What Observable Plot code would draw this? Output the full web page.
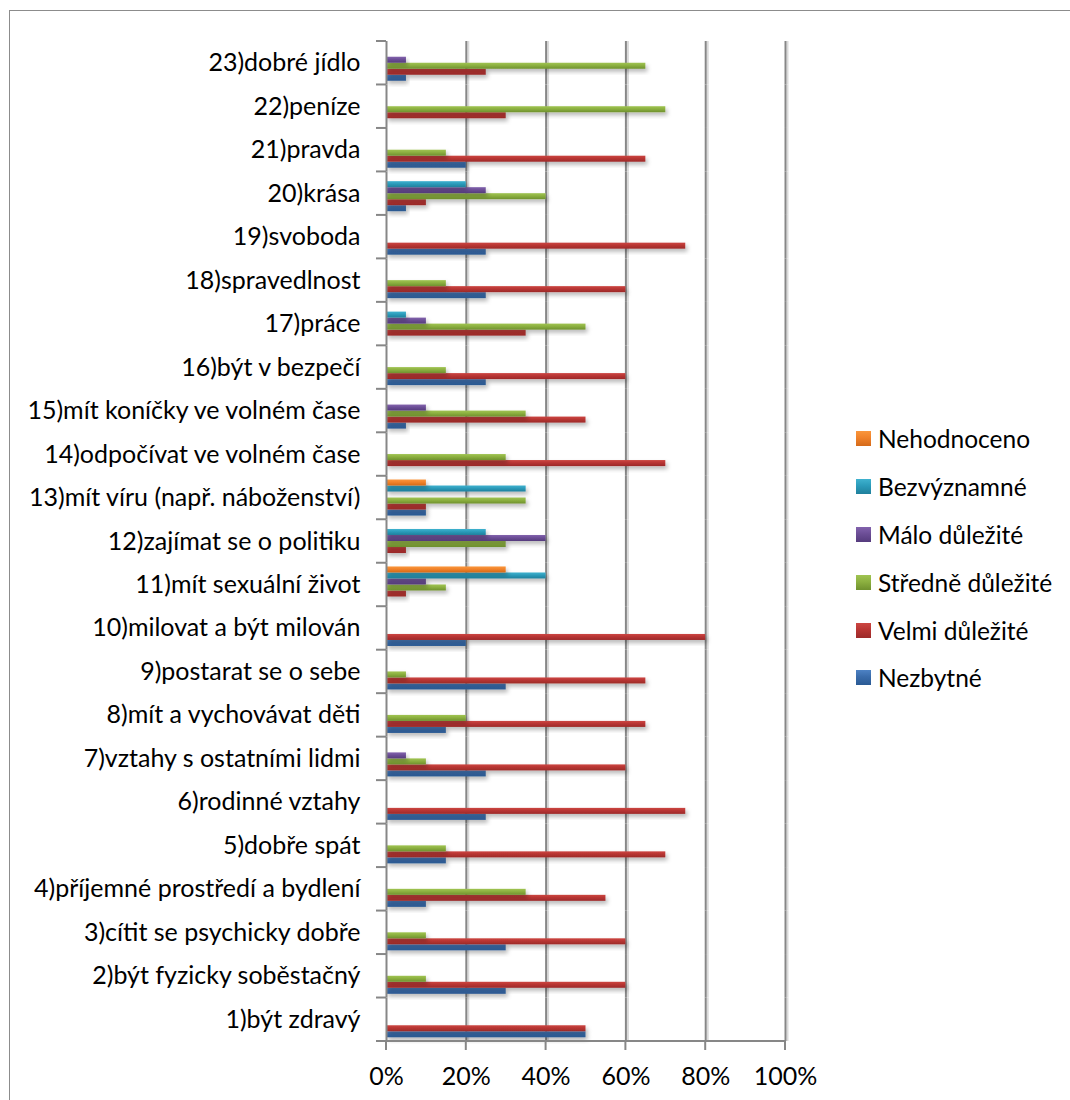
<!DOCTYPE html>
<html>
<head>
<meta charset="utf-8">
<script src="https://cdn.jsdelivr.net/npm/d3@7"></script>
<script src="https://cdn.jsdelivr.net/npm/@observablehq/plot@0.6"></script>
<style>
  body { margin: 0; background: #fff; }
  #chart { position: relative; width: 1070px; height: 1100px; overflow: hidden; font-family: Lato, "Open Sans", sans-serif; }
  #frame { position: absolute; left: 9px; top: 10px; right: -10px; bottom: -10px; border-left: 1.5px solid #8c8c8c; border-top: 1.5px solid #8c8c8c; }
  #plot { position: absolute; left: 0; top: 0; }
  #legend { position: absolute; left: 856px; top: 415px; }
  .item { display: flex; align-items: center; height: 47.8px; font-size: 24.5px; color: #000; white-space: nowrap; }
  .sw { width: 15px; height: 15px; margin-right: 7px; flex: none; }
  svg g[aria-label="bar"] rect { filter: url(#bar-shadow); }
</style>
</head>
<body>
<div id="chart">
  <div id="frame"></div>
  <div id="plot"></div>
  <div id="legend"></div>
</div>
<script>
// Categories, bottom to top
const categories = [
  "1)být zdravý",
  "2)být fyzicky soběstačný",
  "3)cítit se psychicky dobře",
  "4)příjemné prostředí a bydlení",
  "5)dobře spát",
  "6)rodinné vztahy",
  "7)vztahy s ostatními lidmi",
  "8)mít a vychovávat děti",
  "9)postarat se o sebe",
  "10)milovat a být milován",
  "11)mít sexuální život",
  "12)zajímat se o politiku",
  "13)mít víru (např. náboženství)",
  "14)odpočívat ve volném čase",
  "15)mít koníčky ve volném čase",
  "16)být v bezpečí",
  "17)práce",
  "18)spravedlnost",
  "19)svoboda",
  "20)krása",
  "21)pravda",
  "22)peníze",
  "23)dobré jídlo"
];

// Series, in the order they stack from the bottom of each group
const seriesNames = ["Nezbytné", "Velmi důležité", "Středně důležité", "Málo důležité", "Bezvýznamné", "Nehodnoceno"];

// Share of answers in percent, one value per category (1 … 23)
const nezbytne      = [50, 30, 30, 10, 15, 25, 25, 15, 30, 20,  0,  0, 10,  0,  5, 25,  0, 25, 25,  5, 20,  0,  5];
const velmiDulezite = [50, 60, 60, 55, 70, 75, 60, 65, 65, 80,  5,  5, 10, 70, 50, 60, 35, 60, 75, 10, 65, 30, 25];
const stredneDulez  = [ 0, 10, 10, 35, 15,  0, 10, 20,  5,  0, 15, 30, 35, 30, 35, 15, 50, 15,  0, 40, 15, 70, 65];
const maloDulezite  = [ 0,  0,  0,  0,  0,  0,  5,  0,  0,  0, 10, 40,  0,  0, 10,  0, 10,  0,  0, 25,  0,  0,  5];
const bezvyznamne   = [ 0,  0,  0,  0,  0,  0,  0,  0,  0,  0, 40, 25, 35,  0,  0,  0,  5,  0,  0, 20,  0,  0,  0];
const nehodnoceno   = [ 0,  0,  0,  0,  0,  0,  0,  0,  0,  0, 30,  0, 10,  0,  0,  0,  0,  0,  0,  0,  0,  0,  0];

const seriesValues = [nezbytne, velmiDulezite, stredneDulez, maloDulezite, bezvyznamne, nehodnoceno];

// Bar shading: light top, base, dark bottom
const seriesColors = [
  ["#4d82c4", "#3a6cab", "#2a5a94"],
  ["#cc4642", "#b83533", "#9c2a29"],
  ["#a0c452", "#8cb040", "#6f912e"],
  ["#8262ad", "#6c4e96", "#553b7d"],
  ["#3fb2cf", "#2b9bba", "#1f809c"],
  ["#fa963c", "#f0822a", "#d46a1a"]
];

const xTicks = [0, 20, 40, 60, 80, 100];

const rows = [];
seriesNames.forEach((s, i) => {
  categories.forEach((c, j) => {
    const v = seriesValues[i][j];
    if (v > 0) rows.push({category: c, series: s, value: v});
  });
});

const axisGray = "#878787";

const plot = Plot.plot({
  width: 1070,
  height: 1100,
  marginLeft: 386,
  marginRight: 285,
  marginTop: 41,
  marginBottom: 59,
  style: {fontFamily: "Lato, 'Open Sans', sans-serif", fontSize: "25px", color: "#000", background: "transparent", overflow: "visible"},
  x: {domain: [0, 100], ticks: xTicks, tickFormat: d => d + "%", tickSize: 0, tickPadding: 26, label: null},
  y: {domain: [...seriesNames].reverse(), axis: null, paddingInner: 0, paddingOuter: 0.62, round: false},
  fy: {domain: [...categories].reverse(), axis: "left", label: null, tickSize: 0, tickPadding: 26, padding: 0, round: false},
  color: {domain: seriesNames, range: seriesNames.map((_, i) => `url(#grad-${i})`)},
  marks: [
    Plot.ruleX(xTicks.slice(1), {stroke: "#dadada", strokeWidth: 2, dx: 2}),
    Plot.ruleX(xTicks.slice(1), {stroke: axisGray, strokeWidth: 2}),
    Plot.barX(rows, {x: "value", y: "series", fy: "category", fill: "series"}),
    Plot.ruleX([0], {stroke: axisGray, strokeWidth: 2})
  ]
});

const svg = d3.select(plot);
const defs = svg.insert("defs", ":first-child");
seriesColors.forEach((cols, i) => {
  const g = defs.append("linearGradient").attr("id", `grad-${i}`).attr("x1", 0).attr("y1", 0).attr("x2", 0).attr("y2", 1);
  g.append("stop").attr("offset", "0%").attr("stop-color", cols[0]);
  g.append("stop").attr("offset", "45%").attr("stop-color", cols[1]);
  g.append("stop").attr("offset", "100%").attr("stop-color", cols[2]);
});
const f = defs.append("filter").attr("id", "bar-shadow")
  .attr("x", "-10%").attr("y", "-60%").attr("width", "130%").attr("height", "260%");
f.append("feDropShadow").attr("dx", 2).attr("dy", 3).attr("stdDeviation", 2)
  .attr("flood-color", "#000").attr("flood-opacity", 0.28);

// Category boundary ticks on the left axis, value ticks on the bottom axis
const xs = plot.scale("x");
const fys = plot.scale("fy");
const bw = fys.bandwidth;
const bounds = fys.domain.map(c => fys.apply(c));
bounds.push(bounds[bounds.length - 1] + bw);
const x0 = xs.apply(0), x1 = xs.apply(100);
const yBottom = bounds[bounds.length - 1];
const deco = svg.append("g").attr("stroke", axisGray).attr("stroke-width", 2);
bounds.forEach(b => deco.append("line").attr("x1", x0 - 10).attr("x2", x0).attr("y1", b).attr("y2", b));
deco.append("line").attr("x1", x0).attr("x2", x1).attr("y1", yBottom).attr("y2", yBottom);
xTicks.forEach(t => deco.append("line").attr("x1", xs.apply(t)).attr("x2", xs.apply(t)).attr("y1", yBottom).attr("y2", yBottom + 9));

document.getElementById("plot").appendChild(plot);

// Legend, top to bottom
const legend = d3.select("#legend");
[...seriesNames.keys()].reverse().forEach(i => {
  const item = legend.append("div").attr("class", "item");
  item.append("div").attr("class", "sw")
    .style("background", `linear-gradient(to bottom, ${seriesColors[i][0]}, ${seriesColors[i][1]} 45%, ${seriesColors[i][2]})`);
  item.append("span").text(seriesNames[i]);
});
</script>
</body>
</html>
